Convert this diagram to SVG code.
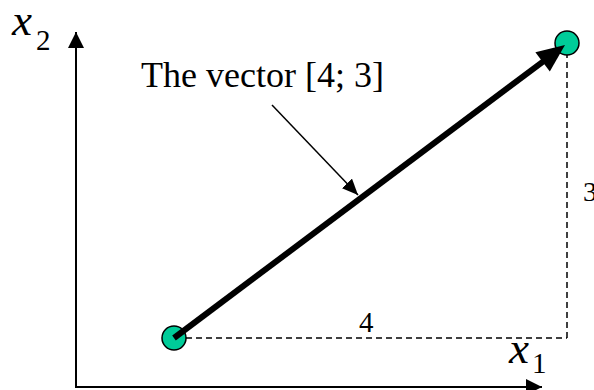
<svg xmlns="http://www.w3.org/2000/svg" width="594" height="390" viewBox="0 0 594 390">
<style>
.t{font-family:"Liberation Serif","Times New Roman",serif;fill:#000}
.it{font-style:italic}
.ax{stroke:#000;stroke-width:2;fill:none}
.dash{stroke:#000;stroke-width:1.5;stroke-dasharray:6 4;fill:none}
.pt{fill:#00CC99;stroke:#000;stroke-width:1.5}
</style>
<defs>
<marker id="axh" viewBox="0 0 16 16" refX="16" refY="8" markerWidth="16" markerHeight="16" markerUnits="userSpaceOnUse" orient="auto">
<path d="M0,0 L16,8 L0,16 Z" fill="#000"/>
</marker>
<marker id="ph" viewBox="0 0 16 14" refX="16" refY="7" markerWidth="16" markerHeight="14" markerUnits="userSpaceOnUse" orient="auto">
<path d="M0,0 L16,7 L0,14 Z" fill="#000"/>
</marker>
</defs>
<rect width="594" height="390" fill="#fff"/>
<g id="connectors">
<line id="y-axis" class="ax" x1="76" y1="388" x2="76" y2="32" marker-end="url(#axh)"/>
<line id="x-axis" class="ax" x1="75" y1="387" x2="542" y2="387" marker-end="url(#axh)"/>
<line id="dash-h" class="dash" x1="186" y1="338" x2="567" y2="338"/>
<line id="dash-v" class="dash" x1="567" y1="52" x2="567" y2="338"/>
<line id="pointer" stroke="#000" stroke-width="1.5" x1="272" y1="105" x2="358" y2="195" marker-end="url(#ph)"/>
</g>
<g id="start-point"><circle class="pt" cx="174" cy="338" r="12"/></g>
<g id="end-point"><circle class="pt" cx="567" cy="43" r="12"/></g>
<g id="vector">
<line x1="174" y1="338" x2="544" y2="60.8" stroke="#000" stroke-width="6"/>
<path d="M565,45 L535.4,52.2 L549.8,71.4 Z" fill="#000"/>
</g>
<g id="label-vector"><text class="t" x="141" y="87" font-size="36">The vector [4; 3]</text></g>
<g id="label-x2"><text class="t" x="12" y="35"><tspan class="it" font-size="45">x</tspan><tspan font-size="29" dx="4" dy="15">2</tspan></text></g>
<g id="label-x1"><text class="t" x="509" y="363"><tspan class="it" font-size="45">x</tspan><tspan font-size="29" dx="3" dy="10">1</tspan></text></g>
<g id="label-4"><text class="t" x="359" y="332" font-size="29">4</text></g>
<g id="label-3"><text class="t" x="583" y="201" font-size="28">3</text></g>
</svg>
